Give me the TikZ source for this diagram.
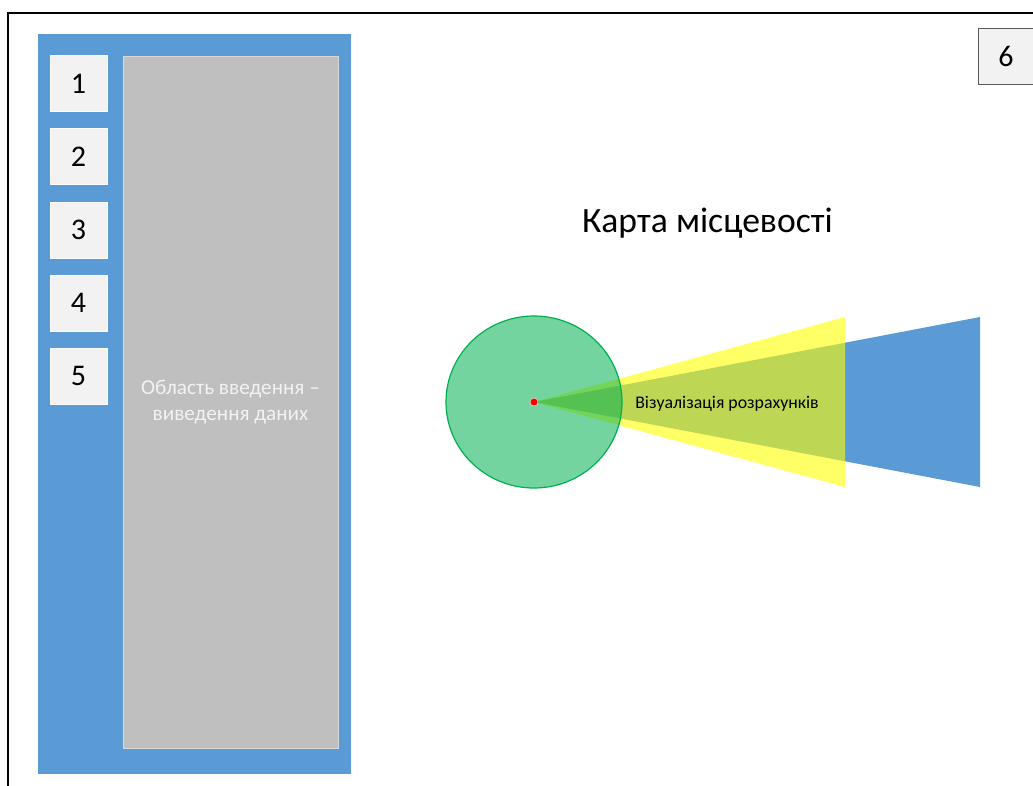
\documentclass[tikz,border=0pt]{standalone}
\usepackage{fontspec}
\setmainfont{Carlito}
\usetikzlibrary{positioning}
\definecolor{panelblue}{HTML}{5B9BD5}
\definecolor{areagray}{HTML}{BFBFBF}
\definecolor{btnfill}{HTML}{F2F2F2}
\definecolor{btnedge}{HTML}{595959}
\definecolor{zonegreen}{HTML}{00B050}
\definecolor{beamyellow}{HTML}{FFFF00}
\definecolor{dotred}{HTML}{FF0000}

\begin{document}
\begin{tikzpicture}[
    x=1pt, y=-1pt,
    side panel/.style={fill=panelblue},
    io area/.style={draw=white!40!areagray, line width=0.6pt, fill=areagray},
    io text/.style={font=\fontsize{21.2}{26.5}\selectfont, text=btnfill, align=center},
    menu btn/.style={draw=white!80!btnfill, line width=0.8pt, fill=btnfill,
        minimum width=57pt, minimum height=56pt, inner sep=0pt,
        font=\fontsize{30}{36}\selectfont},
    corner btn/.style={draw=btnedge, line width=0.9pt, fill=btnfill,
        minimum width=56pt, minimum height=56pt, inner sep=0pt,
        font=\fontsize{30}{36}\selectfont},
    map title/.style={font=\fontsize{35.6}{42}\selectfont, anchor=base},
    calc label/.style={font=\fontsize{17.8}{21}\selectfont, anchor=base},
]

% ══════════════════════════════════════════════════════════════════════
%  DIMENSIONS — pixel grid of the screen mock-up
% ══════════════════════════════════════════════════════════════════════
\def\apexX{534}  \def\apexY{402}
\def\beamA{845}  \def\beamB{980}
\def\beamT{317}  \def\beamD{487}

\clip (0,0) rectangle (1033,785);

% ── Screen frame ──────────────────────────────────────────────────────
\draw[line width=2pt] (8,800) -- (8,13) -- (1050,13);

% ── Side panel: menu buttons and input / output area ──────────────────
\fill[side panel] (38,34) rectangle (351,774);
\draw[io area] (123,56) rectangle (338,748);
\node[io text] (io) at (230.5,402) {Область введення –\\виведення даних};

\node[menu btn] (b1) at (78.5,83.7) {1};
\node[menu btn, below=16.3pt of b1] (b2) {2};
\node[menu btn, below=16.3pt of b2] (b3) {3};
\node[menu btn, below=16.3pt of b3] (b4) {4};
\node[menu btn, below=16.3pt of b4] (b5) {5};

\node[corner btn] (b6) at (1006,56) {6};

% ══════════════════════════════════════════════════════════════════════
%  MAP — zone circle and calculation beams
% ══════════════════════════════════════════════════════════════════════
\node[map title] (title) at (707.5,232) {Карта місцевості};

\fill[panelblue] (\apexX,\apexY) -- (\beamB,\beamT) -- (\beamB,\beamD) -- cycle;
\fill[beamyellow, fill opacity=0.6]
    (\apexX,\apexY) -- (\beamA,\beamT) -- (\beamA,\beamD) -- cycle;
\draw[zonegreen, line width=1.2pt, fill=zonegreen, fill opacity=0.55]
    (\apexX,\apexY) ellipse [x radius=88, y radius=86];
\fill[dotred, draw=white, line width=0.4pt] (\apexX,\apexY) circle (4);

\node[calc label] (calc) at (727,408) {Візуалізація розрахунків};

\end{tikzpicture}
\end{document}
